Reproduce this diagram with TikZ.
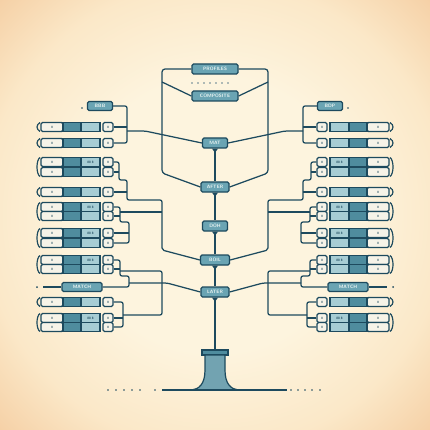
\documentclass[tikz,border=0pt]{standalone}
\usetikzlibrary{calc}
\definecolor{ink}{HTML}{1D4A5E}
\definecolor{tdark}{HTML}{4F8C9E}
\definecolor{tlight}{HTML}{A7CDD4}
\definecolor{tmid}{HTML}{6AA4B3}
\definecolor{paperw}{HTML}{F6F3E8}
\definecolor{bgin}{HTML}{FDF4DE}
\definecolor{bgmid}{HTML}{FBE8C8}
\definecolor{bgout}{HTML}{F5CFA4}
\definecolor{labtext}{HTML}{EAF4F2}
\pgfdeclareradialshading{bgshade}{\pgfpoint{0bp}{0bp}}{color(0bp)=(bgin); color(16bp)=(bgin); color(27bp)=(bgmid); color(36bp)=(bgout); color(50bp)=(bgout)}
\begin{document}
\begin{tikzpicture}[x=1pt,y=-1pt,
  wire/.style={draw=ink,line width=1.25pt,rounded corners=2pt},
  cell/.style={draw=ink,line width=1.1pt,minimum height=9pt,inner sep=0pt,font=\sffamily\bfseries\fontsize{3.2}{3.5}\selectfont,text=ink},
  wcell/.style={cell,fill=paperw,rounded corners=1.5pt},
  dcell/.style={cell,fill=tdark},
  lcell/.style={cell,fill=tlight},
  clab/.style={draw=ink,line width=1.3pt,fill=tmid,rounded corners=1.5pt,inner sep=0pt,minimum height=10pt,text=labtext,font=\sffamily\bfseries\fontsize{4.8}{5}\selectfont},
]
\useasboundingbox (0,0) rectangle (430,430);
\shade[shading=bgshade] (0,0) rectangle (430,430);

% central column
\node[clab,minimum width=46pt] (prof) at (215,69) {PROFILES};
\node[clab,minimum width=46pt] (comp) at (215,96) {COMPOSITE};
\node[clab,minimum width=25pt] (mat) at (215,143) {MAT};
\node[clab,minimum width=28pt] (after) at (215,187) {AFTER};
\node[clab,minimum width=25pt] (doh) at (215,226) {DOH};
\node[clab,minimum width=29pt] (boil) at (215,260) {BOIL};
\node[clab,minimum width=28pt] (later) at (215,292) {LATER};
\node[draw=ink,fill=tdark,line width=1.2pt,minimum width=26pt,minimum height=5pt,inner sep=0pt] (cap) at (215,352.5) {};

\foreach \x in {192,198,204,210,216,222,228} \fill[ink!70] (\x,83) circle (0.8pt);

\draw[wire] (mat.south) -- (after.north);
\draw[wire] (after.south) -- (doh.north);
\draw[wire] (doh.south) -- (boil.north);
\draw[wire] (boil.south) -- (later.north);
\draw[wire] (later.south) -- (cap.north);
\foreach \c in {mat,after,doh,boil,later}
  \fill[ink] (\c.south) ++(-3,0) -- ++(6,0) -- ++(-3,4) -- cycle;

% stand
\filldraw[draw=ink,fill=tdark!80,line width=1.2pt] (205,355) -- (205,370) .. controls (205,384) and (199,389) .. (192,390) -- (238,390) .. controls (231,389) and (225,384) .. (225,370) -- (225,355) -- cycle;
\draw[wire] (162,390) -- (287,390);
\foreach \x in {108,116,124,132,140,155,291,298,305,312,320} \fill[ink] (\x,390) circle (0.9pt);

% both sides
\foreach \s/\n/\a/\b/\lab in {-1/L/east/west/BBB, 1/R/west/east/BDP} {
  \foreach \i/\y/\lt in {1/127/{},2/143/{},3/162/{88 8},4/172/{},5/192/{},6/207/{88 8},7/216/{},8/233/{88 8},9/243/{},10/260/{88 8},11/269/{},12/302/{},13/318/{88 8},14/327/{}} {
    \node[wcell,minimum width=22pt] (\n w\i) at ({215+\s*163},\y) {ll};
    \node[dcell,minimum width=18pt] (\n d\i) at ({215+\s*143},\y) {};
    \node[lcell,minimum width=19pt] (\n l\i) at ({215+\s*124.5},\y) {\lt};
    \node[wcell,minimum width=10pt] (\n s\i) at ({215+\s*107},\y) {ll};
  }
  \foreach \ya/\yb in {127/127,143/143,162/172,192/192,207/216,233/243,260/269,302/302,318/327}
    \draw[ink,line width=1.2pt] ({215+\s*175},\ya-4.5) .. controls ({215+\s*179},\ya-2) and ({215+\s*179},\yb+2) .. ({215+\s*175},\yb+4.5);

  \node[clab,minimum width=25pt,minimum height=9pt] (\n lab) at ({215+\s*115},106) {\lab};
  \node[clab,minimum width=40pt,minimum height=9pt] (\n match) at ({215+\s*133},287) {MATCH};
  \fill[ink] ({215+\s*133},108) circle (0.9pt);
  \draw[wire] (\n match.\b) -- ({215+\s*172},287);
  \fill[ink] ({215+\s*178},287) circle (1pt);

  % frame
  \draw[wire,rounded corners=3pt] (prof.\b) -| ({215+\s*53},173) -- (after.\b);
  \draw[wire] ({215+\s*53},82) -- (comp.\b);

  % group 1
  \draw[wire] (\n lab.\a) -| ({215+\s*88},135) |- (\n s2.\a);
  \draw[wire] (\n s1.\a) -- ({215+\s*88},127);
  \draw[wire] ({215+\s*88},131) -- ({215+\s*70},131) -- (mat.\b);

  % group 2
  \draw[wire] (\n s3.\a) -| ({215+\s*96},180) -| ({215+\s*88},200) -- ({215+\s*53},200) -- ({215+\s*53},250) -- (boil.\b);
  \draw[wire] (\n s4.\a) -- ({215+\s*96},172);
  \draw[wire] (\n s5.\a) -- ({215+\s*88},192);

  % group 3
  \draw[wire] (\n s6.\a) -| ({215+\s*95},222) -| ({215+\s*86},243) -- (\n s9.\a);
  \draw[wire] (\n s7.\a) -- ({215+\s*95},216);
  \draw[wire] (\n s8.\a) -- ({215+\s*86},233);
  \draw[wire] ({215+\s*95},212) -- ({215+\s*53},212);

  % group 4
  \draw[wire] (\n s10.\a) -| ({215+\s*95},276) -| ({215+\s*86},287) -- (\n match.\a);
  \draw[wire] (\n s11.\a) -- ({215+\s*95},269);
  \draw[wire] ({215+\s*95},271) -- ({215+\s*53},271) -- ({215+\s*53},315) -- ({215+\s*92},315);
  \draw[wire] ({215+\s*86},283) -- ({215+\s*48},283) -- (later.\b);

  % group 5
  \draw[wire] (\n s12.\a) -| ({215+\s*92},327) -- (\n s14.\a);
  \draw[wire] (\n s13.\a) -- ({215+\s*92},318);
}
\end{tikzpicture}
\end{document}
